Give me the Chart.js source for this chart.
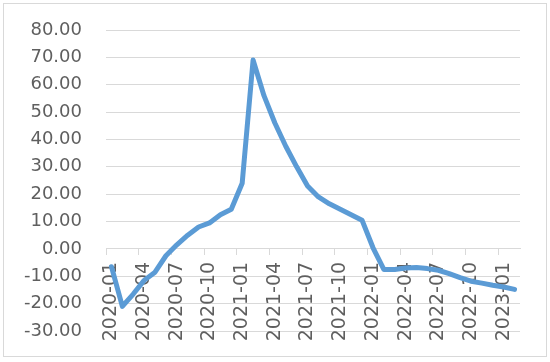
<!DOCTYPE html>
<html>
<head>
<meta charset="utf-8">
<script src="https://cdn.jsdelivr.net/npm/chart.js@4/dist/chart.umd.min.js"></script>
<style>
  body { margin: 0; background: #fff; }
  #wrap { position: relative; width: 550px; height: 362px; }
  #frame { position: absolute; left: 3px; top: 3px; width: 542px; height: 352px; border: 1px solid #d9d9d9; pointer-events: none; }
</style>
</head>
<body>
<div id="wrap">
  <canvas id="chart" width="550" height="362"></canvas>
  <div id="frame"></div>
</div>
<script>
// months on the category axis
const months = [
  '2020-01', '2020-02', '2020-03', '2020-04', '2020-05', '2020-06',
  '2020-07', '2020-08', '2020-09', '2020-10', '2020-11', '2020-12',
  '2021-01', '2021-02', '2021-03', '2021-04', '2021-05', '2021-06',
  '2021-07', '2021-08', '2021-09', '2021-10', '2021-11', '2021-12',
  '2022-01', '2022-02', '2022-03', '2022-04', '2022-05', '2022-06',
  '2022-07', '2022-08', '2022-09', '2022-10', '2022-11', '2022-12',
  '2023-01', '2023-02'
];

// values
const values = [
  -6.5, -21.0, -16.5, -11.5, -8.5, -2.5,
  1.5, 5.0, 8.0, 9.5, 12.5, 14.5,
  24.0, 69.0, 56.0, 46.0, 37.5, 30.0,
  23.0, 19.0, 16.5, 14.5, 12.5, 10.5,
  0.5, -7.5, -7.5, -7.0, -6.8, -7.2,
  -7.8, -9.0, -10.5, -11.8, -12.5, -13.3,
  -13.9, -14.8
];

const yMin = -30;
const yMax = 80;
const yStep = 10;

const gridColor = '#d9d9d9';
const textColor = '#5f5f5f';

new Chart(document.getElementById('chart'), {
  type: 'line',
  data: {
    labels: months,
    datasets: [{
      data: values,
      borderColor: '#5b9bd5',
      borderWidth: 5,
      borderJoinStyle: 'round',
      borderCapStyle: 'round',
      pointRadius: 0,
      tension: 0,
      fill: false
    }]
  },
  options: {
    responsive: false,
    animation: false,
    layout: { padding: { top: 30, right: 30, bottom: 31, left: 0 } },
    plugins: { legend: { display: false }, tooltip: { enabled: false } },
    scales: {
      x: {
        position: { y: 0 },
        offset: true,
        grid: {
          offset: true,
          drawOnChartArea: false,
          drawTicks: true,
          tickLength: 6,
          tickColor: ctx => (ctx.index % 3 === 0 ? gridColor : 'rgba(0,0,0,0)')
        },
        border: { display: true, color: gridColor },
        ticks: {
          autoSkip: false,
          minRotation: 90,
          maxRotation: 90,
          padding: 7,
          color: textColor,
          font: { family: 'DejaVu Sans', size: 19 },
          callback: function (v, i) { return i % 3 === 0 ? months[i] : ''; }
        }
      },
      y: {
        min: yMin,
        max: yMax,
        afterFit: s => { s.width = 106; },
        // the invisible tick length pushes the labels away from the plot
        grid: { color: gridColor, drawTicks: true, tickLength: 24, tickColor: 'rgba(0,0,0,0)' },
        border: { display: false },
        ticks: {
          stepSize: yStep,
          padding: 0,
          color: textColor,
          font: { family: 'DejaVu Sans', size: 18 },
          callback: v => v.toFixed(2)
        }
      }
    }
  }
});
</script>
</body>
</html>
